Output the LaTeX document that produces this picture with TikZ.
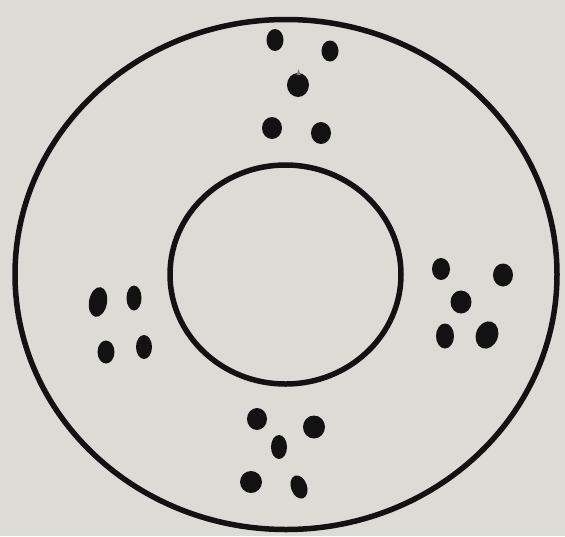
\documentclass[tikz,border=0pt]{standalone}
\definecolor{paper}{RGB}{221,219,214}
\definecolor{ink}{RGB}{18,18,18}
\begin{document}
\begin{tikzpicture}[x=1pt,y=-1pt,
  ring/.style={draw=ink,line width=5.5pt},
  spot/.style={fill=ink}]
\fill[paper] (0,0) rectangle (565,536);
\useasboundingbox (0,0) rectangle (565,536);
% circles
\draw[ring] (286,274.5) ellipse [x radius=271, y radius=255];
\draw[ring] (285.5,274.5) ellipse [x radius=115.5, y radius=109.5];
% top group
\fill[spot] (275,40) ellipse [x radius=8.5, y radius=11];
\fill[spot] (330,51) ellipse [x radius=8.5, y radius=10.5];
\fill[spot] (298,85) ellipse [x radius=11, y radius=12];
\fill[ink!55] (296.5,75) -- (298.5,69) -- (300.5,75) -- cycle;
\fill[spot] (272,128) ellipse [x radius=10, y radius=11];
\fill[spot] (321,133) ellipse [x radius=10, y radius=11];
% right group
\fill[spot] (441,269) ellipse [x radius=9, y radius=11];
\fill[spot] (503,275) ellipse [x radius=10, y radius=11.5];
\fill[spot] (461,302) ellipse [x radius=10.5, y radius=11.5];
\fill[spot] (445,336) ellipse [x radius=9, y radius=12.5];
\fill[spot,rotate around={-20:(487,335)}] (487,335) ellipse [x radius=11, y radius=14];
% left group
\fill[spot,rotate around={-10:(98,302)}] (98,302) ellipse [x radius=9, y radius=15];
\fill[spot] (134,298) ellipse [x radius=7.5, y radius=12.5];
\fill[spot] (106,352) ellipse [x radius=8.5, y radius=11.5];
\fill[spot] (144,347) ellipse [x radius=8, y radius=12];
% bottom group
\fill[spot] (257,419) ellipse [x radius=10, y radius=11];
\fill[spot] (314,427) ellipse [x radius=11, y radius=11.5];
\fill[spot] (279,447) ellipse [x radius=8, y radius=12];
\fill[spot] (251,482) ellipse [x radius=11, y radius=11];
\fill[spot,rotate around={20:(299,487)}] (299,487) ellipse [x radius=8, y radius=12];
\end{tikzpicture}
\end{document}
